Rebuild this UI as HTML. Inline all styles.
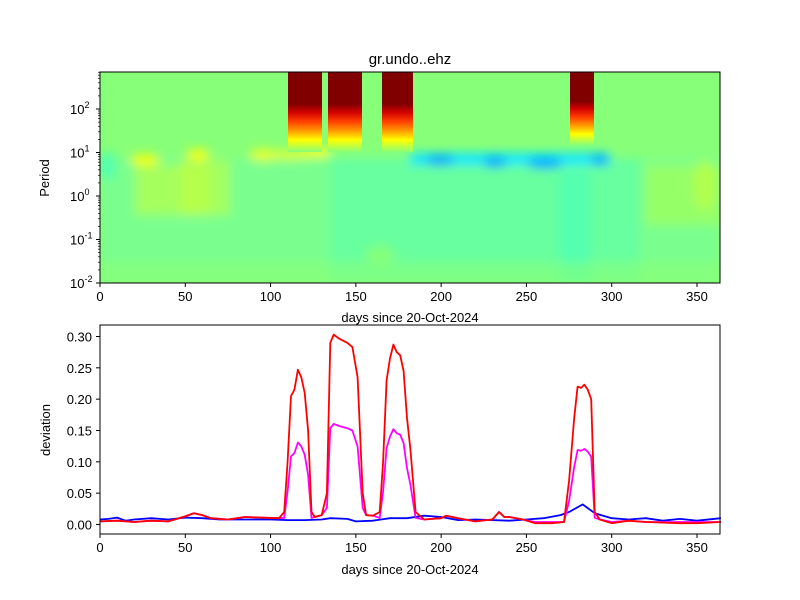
<!DOCTYPE html>
<html><head><meta charset="utf-8"><style>
body{margin:0;background:#fff;}
svg{display:block;font-family:"Liberation Sans","DejaVu Sans",sans-serif;}
</style></head><body>
<svg id="s" width="800" height="600" xmlns="http://www.w3.org/2000/svg">
<defs>
<linearGradient id="hot" x1="0" y1="0" x2="0" y2="1">
<stop offset="0" stop-color="#800000"/>
<stop offset="0.4" stop-color="#800000"/>
<stop offset="0.5" stop-color="#d00000"/>
<stop offset="0.62" stop-color="#ff4000"/>
<stop offset="0.74" stop-color="#ffa000"/>
<stop offset="0.85" stop-color="#ffff00"/>
<stop offset="0.93" stop-color="#c0ff40"/>
<stop offset="1" stop-color="#88ff78"/>
</linearGradient>
<clipPath id="cp"><rect x="100" y="72" width="620" height="211"/></clipPath>
<filter id="bl" filterUnits="userSpaceOnUse" x="0" y="0" width="800" height="400"><feGaussianBlur stdDeviation="5"/></filter>
</defs>
<g id="heat" clip-path="url(#cp)"></g>
<g id="lines"></g>
<g id="axes"></g>
</svg>
<script>
const NS="http://www.w3.org/2000/svg";
function el(p,t,a,txt){const e=document.createElementNS(NS,t);for(const k in a)e.setAttribute(k,a[k]);if(txt!==undefined)e.textContent=txt;p.appendChild(e);return e;}
const X=d=>100+d*1.7057;
const H=document.getElementById('heat'),L=document.getElementById('lines'),A=document.getElementById('axes');
el(H,'rect',{x:100,y:72,width:620,height:211,fill:'#88ff78'});
const g=el(H,'g',{filter:'url(#bl)'});
// faint cyan-ish lower region
el(g,'rect',{x:100,y:158,width:620,height:125,fill:'#70ffa0',opacity:0.55});
el(g,'rect',{x:330,y:158,width:310,height:125,fill:'#55ffb0',opacity:0.5});
el(g,'rect',{x:560,y:170,width:30,height:113,fill:'#40ffc0',opacity:0.5});
// yellowish-green region left
el(g,'rect',{x:135,y:165,width:75,height:50,fill:'#b8ff48',opacity:0.7});
el(g,'rect',{x:180,y:160,width:50,height:55,fill:'#c0ff40',opacity:0.6});
el(g,'rect',{x:645,y:165,width:75,height:60,fill:'#a8ff50',opacity:0.6});
el(g,'ellipse',{cx:705,cy:185,rx:12,ry:25,fill:'#b8ff48',opacity:0.8});
el(g,'ellipse',{cx:380,cy:255,rx:15,ry:10,fill:'#a0ff58',opacity:0.5});
el(g,'rect',{x:100,y:262,width:620,height:21,fill:'#90ff70',opacity:0.5});
// yellow band spots
[[145,160,15,6,'#f0ff10'],[198,155,12,6,'#f0ff10'],[265,155,16,6,'#e8ff20'],[315,152,16,6,'#f0ff10'],[290,155,25,5,'#d8ff30']].forEach(b=>el(g,'ellipse',{cx:b[0],cy:b[1],rx:b[2],ry:b[3],fill:b[4]}));
// cyan/blue band
el(g,'rect',{x:410,y:153,width:200,height:12,fill:'#10e8ff'});
el(g,'rect',{x:100,y:153,width:15,height:25,fill:'#40ffc0',opacity:0.7});
[[440,160,14],[495,162,12],[545,163,18],[600,160,9]].forEach(b=>el(g,'ellipse',{cx:b[0],cy:b[1],rx:b[2],ry:6,fill:'#00b0ff'}));
// hot columns
[[288,322,152],[328,362,152],[382,413,152],[570,594,145]].forEach(c=>{
 el(H,'rect',{x:c[0],y:72,width:c[1]-c[0],height:c[2]-72,fill:'url(#hot)'});
});
const red=[[0,.005],[10,.006],[20,.004],[30,.006],[40,.005],[50,.013],[55,.018],[60,.015],[65,.01],[75,.008],[85,.012],[95,.011],[105,.01],[108,.02],[110,.1],[112,.205],[114,.215],[116,.247],[118,.235],[120,.21],[122,.15],[124,.02],[126,.012],[130,.015],[133,.05],[135,.29],[137,.303],[140,.297],[145,.29],[148,.283],[151,.235],[154,.05],[156,.015],[160,.014],[164,.02],[166,.1],[168,.23],[170,.265],[172,.287],[174,.275],[176,.27],[178,.245],[180,.17],[182,.12],[185,.02],[190,.008],[200,.01],[203,.014],[210,.01],[220,.005],[230,.008],[234,.02],[237,.012],[240,.012],[248,.008],[255,.002],[265,.002],[272,.004],[275,.07],[278,.17],[280,.22],[282,.218],[284,.223],[286,.215],[288,.2],[290,.02],[293,.008],[300,.002],[310,.006],[320,.004],[330,.003],[340,.002],[350,.002],[364,.004]];
const mag=red.map(([d,v])=>{let m=v;if(d>=108&&d<=125)m=v*0.53;else if(d>=133&&d<=155)m=v*0.53;else if(d>=164&&d<=186)m=v*0.53;else if(d>=274&&d<=291)m=v*0.54;return [d,Math.max(m,0.004)];});
const blue=[[0,.008],[5,.009],[10,.011],[15,.006],[20,.008],[30,.01],[40,.008],[50,.011],[60,.01],[70,.008],[80,.008],[100,.008],[110,.007],[120,.007],[130,.008],[135,.01],[145,.009],[150,.005],[160,.006],[170,.01],[180,.01],[190,.014],[200,.012],[210,.007],[220,.008],[240,.006],[250,.008],[260,.01],[270,.015],[275,.02],[283,.032],[290,.018],[300,.01],[310,.008],[320,.01],[330,.006],[340,.009],[350,.006],[364,.01]];
const Y=v=>524.5-v*626.7;
const pl=(d,c)=>el(L,'polyline',{points:d.map(p=>X(p[0]).toFixed(1)+','+Y(p[1]).toFixed(1)).join(' '),fill:'none',stroke:c,'stroke-width':1.8,'stroke-linejoin':'round'});
pl(blue,'#0000ff');pl(mag,'#ff00ff');pl(red,'#ff0000');
el(A,'rect',{x:100,y:72,width:620,height:211,fill:'none',stroke:'#000','stroke-width':1});
el(A,'rect',{x:100,y:325,width:620,height:209,fill:'none',stroke:'#000','stroke-width':1});
const T=(x,y,s,o)=>el(A,'text',Object.assign({x:x,y:y,'font-size':13,fill:'#000'},o||{}),s);
for(let d=0;d<=350;d+=50){const x=X(d);
 el(A,'line',{x1:x,y1:283,x2:x,y2:287,stroke:'#000'});T(x,301,d,{'text-anchor':'middle'});
 el(A,'line',{x1:x,y1:534,x2:x,y2:538,stroke:'#000'});T(x,552,d,{'text-anchor':'middle'});}
T(410,322,'days since 20-Oct-2024',{'text-anchor':'middle'});
T(410,574,'days since 20-Oct-2024',{'text-anchor':'middle'});
T(410,64,'gr.undo..ehz',{'text-anchor':'middle','font-size':15});
for(let e=-2;e<=2;e++){const y=283-(e+2)*43.5;
 el(A,'line',{x1:96,y1:y,x2:100,y2:y,stroke:'#000'});
 const t=T(70,y+5,'10',{});el(t,'tspan',{dy:-6,'font-size':9},e);
 for(let k=2;k<10;k++){const yy=y-Math.log10(k)*43.5;if(yy<72)break;el(A,'line',{x1:98,y1:yy,x2:100,y2:yy,stroke:'#000','stroke-width':0.7});}
}
T(49,178,'Period',{'text-anchor':'middle',transform:'rotate(-90 49 178)'});
for(let i=0;i<=6;i++){const v=i*0.05,y=Y(v);
 el(A,'line',{x1:96,y1:y,x2:100,y2:y,stroke:'#000'});T(92,y+5,v.toFixed(2),{'text-anchor':'end'});}
T(50,430,'deviation',{'text-anchor':'middle',transform:'rotate(-90 50 430)'});
</script>
</body></html>
